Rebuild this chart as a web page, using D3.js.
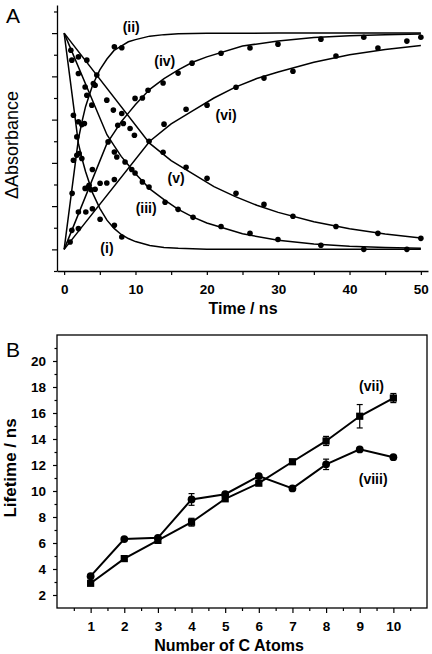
<!DOCTYPE html>
<html><head><meta charset="utf-8">
<script src="https://cdn.jsdelivr.net/npm/d3@7"></script>
<style>html,body{margin:0;padding:0;background:#fff;}svg{display:block;}</style>
</head><body>
<svg id="chart" width="432" height="654"></svg>
<script>
// ---------- Panel A data ----------
const timeTicks = [0, 10, 20, 30, 40, 50];
const timeMinorTicks = [5, 15, 25, 35, 45];
const absTicks = [0, 0.2, 0.4, 0.6, 0.8, 1.0];
const absMinorTicks = [-0.1, 0.1, 0.3, 0.5, 0.7, 0.9, 1.1];

// fitted curves
const fitFast_t = [0, 2, 2.5, 3, 3.5, 4, 5, 6, 7, 8, 9, 10, 12, 14, 16, 20, 30, 50];
const fitI_v   = [1, 0.49, 0.42, 0.36, 0.31, 0.26, 0.19, 0.135, 0.097, 0.069, 0.05, 0.036, 0.018, 0.009, 0.005, 0.001, 0, 0];
const fitII_v  = [0, 0.51, 0.59, 0.66, 0.71, 0.76, 0.83, 0.88, 0.92, 0.94, 0.96, 0.97, 0.986, 0.993, 0.997, 0.999, 1, 1];
const fitMid_t = [0, 6, 7, 8, 9, 10, 12, 14, 16, 18, 20, 25, 30, 35, 40, 45, 50];
const fitIII_v = [1, 0.53, 0.48, 0.43, 0.39, 0.35, 0.28, 0.23, 0.185, 0.15, 0.122, 0.072, 0.042, 0.025, 0.015, 0.009, 0.005];
const fitIV_v  = [0, 0.49, 0.54, 0.59, 0.63, 0.67, 0.74, 0.79, 0.83, 0.865, 0.89, 0.94, 0.964, 0.98, 0.988, 0.993, 0.996];
const fitSlow_t = [0, 12, 15, 18, 21, 24, 27, 30, 35, 40, 45, 50];
const fitV_v   = [1, 0.49, 0.41, 0.35, 0.29, 0.244, 0.204, 0.171, 0.128, 0.095, 0.071, 0.053];
const fitVI_v  = [0, 0.50, 0.58, 0.64, 0.70, 0.75, 0.79, 0.82, 0.865, 0.90, 0.924, 0.943];

// measured points
const dotsI_t = [1.3, 2.0, 1.78, 2.1, 2.48, 3.4, 3.78, 4.34, 5.04, 7.04, 8.08];
const dotsI_v = [0.62, 0.59, 0.435, 0.443, 0.42, 0.288, 0.276, 0.278, 0.139, 0.111, 0.057];
const dotsII_t = [1.12, 1.3, 1.78, 2.48, 2.84, 3.18, 4.1, 4.34, 4.58, 7.04, 8.08];
const dotsII_v = [0.259, 0.412, 0.52, 0.577, 0.582, 0.713, 0.767, 0.759, 0.806, 0.937, 0.932];
const dotsIII_t = [0.94, 1.08, 2.0, 2.94, 3.88, 6.16, 7.04, 7.38, 8.54, 9.48, 9.94, 10.97, 11.9, 14.15, 15.97, 18.07, 21.99, 26.05, 29.97, 35.99, 42.0, 48.04];
const dotsIII_v = [0.921, 0.875, 0.813, 0.751, 0.667, 0.497, 0.45, 0.427, 0.404, 0.369, 0.353, 0.312, 0.288, 0.218, 0.185, 0.148, 0.106, 0.074, 0.046, 0.019, 0.0, 0.0];
const dotsIV_t = [1.08, 2.0, 2.94, 3.5, 3.96, 7.52, 9.94, 10.97, 11.76, 13.87, 15.97, 17.93, 21.99, 26.05, 29.97, 35.99, 42.0, 48.04, 50.0];
const dotsIV_v = [0.088, 0.173, 0.282, 0.296, 0.369, 0.574, 0.698, 0.70, 0.736, 0.769, 0.815, 0.861, 0.907, 0.931, 0.949, 0.972, 0.981, 0.963, 0.981];
const dotsV_t = [2.0, 3.18, 5.98, 6.9, 8.08, 8.3, 9.24, 9.85, 13.87, 17.09, 20.03, 24.09, 28.01, 32.07, 38.1, 43.98, 50.0];
const dotsV_v = [0.89, 0.875, 0.69, 0.644, 0.628, 0.582, 0.559, 0.528, 0.449, 0.38, 0.329, 0.259, 0.208, 0.153, 0.106, 0.074, 0.051];
const dotsVI_t = [0.84, 2.0, 3.04, 3.96, 5.04, 5.98, 7.04, 11.9, 14.0, 17.09, 20.03, 24.09, 28.01, 32.07, 38.1, 43.98];
const dotsVI_v = [0.034, 0.096, 0.173, 0.188, 0.306, 0.307, 0.323, 0.50, 0.579, 0.648, 0.667, 0.75, 0.792, 0.824, 0.894, 0.931];

const curveLabelsA = ["(i)", "(ii)", "(iii)", "(iv)", "(v)", "(vi)"];
const curveLabelT  = [6.0, 9.4, 11.5, 14.1, 15.7, 22.7];
const curveLabelV  = [-0.015, 1.005, 0.17, 0.85, 0.305, 0.6];

// ---------- Panel B data ----------
const carbons = [1, 2, 3, 4, 5, 6, 7, 8, 9, 10];
const lifeVii  = [2.9, 4.8, 6.2, 7.6, 9.4, 10.6, 12.25, 13.85, 15.75, 17.15];
const errVii   = [0.1, 0.1, 0.1, 0.3, 0.1, 0.1, 0.1, 0.35, 0.9, 0.35];
const lifeViii = [3.45, 6.3, 6.4, 9.35, 9.75, 11.15, 10.2, 12.05, 13.2, 12.6];
const errViii  = [0.1, 0.1, 0.1, 0.45, 0.1, 0.1, 0.1, 0.4, 0.1, 0.1];
const carbonTicks = [1, 2, 3, 4, 5, 6, 7, 8, 9, 10];
const carbonMinorTicks = [0.5, 1.5, 2.5, 3.5, 4.5, 5.5, 6.5, 7.5, 8.5, 9.5, 10.5];
const lifeTicks = [2, 4, 6, 8, 10, 12, 14, 16, 18, 20];
const lifeMinorTicks = [3, 5, 7, 9, 11, 13, 15, 17, 19, 21];

const FONT = "'Liberation Sans', Arial, Helvetica, sans-serif";
const svg = d3.select("#chart");

// ================= Panel A =================
const xA = d3.scaleLinear().domain([-1, 51]).range([57, 428]);
const yA = d3.scaleLinear().domain([-0.1, 1.13]).range([271, 5]);
const gA = svg.append("g");

function styleAxis(g, fs) {
  g.selectAll("path.domain").attr("stroke", "#000").attr("stroke-width", 1.3);
  g.selectAll(".tick line").attr("stroke", "#000").attr("stroke-width", 1.2);
  g.selectAll(".tick text").attr("font-family", FONT).attr("font-size", fs)
    .attr("font-weight", "bold").attr("fill", "#000");
}

gA.append("g").attr("transform", "translate(0,271)")
  .call(d3.axisBottom(xA).tickValues(timeTicks).tickSize(4).tickSizeOuter(0).tickPadding(9).tickFormat(d3.format("d")))
  .call(g => styleAxis(g, 13.5));
gA.append("g").attr("transform", "translate(0,271)")
  .call(d3.axisBottom(xA).tickValues(timeMinorTicks).tickSize(4).tickSizeOuter(0).tickFormat(""))
  .call(g => { styleAxis(g, 13); g.select("path.domain").remove(); });
gA.append("g").attr("transform", "translate(57,0)")
  .call(d3.axisLeft(yA).tickValues(absTicks).tickSize(5).tickSizeOuter(0).tickFormat(""))
  .call(g => styleAxis(g, 13));
gA.append("g").attr("transform", "translate(57,0)")
  .call(d3.axisLeft(yA).tickValues(absMinorTicks).tickSize(3).tickSizeOuter(0).tickFormat(""))
  .call(g => { styleAxis(g, 13); g.select("path.domain").remove(); });

const lineA = d3.line().x(d => xA(d[0])).y(d => yA(d[1])).curve(d3.curveLinear);
const fits = [[fitFast_t, fitI_v], [fitFast_t, fitII_v], [fitMid_t, fitIII_v], [fitMid_t, fitIV_v], [fitSlow_t, fitV_v], [fitSlow_t, fitVI_v]];
fits.forEach(([ts, vs]) => {
  gA.append("path").datum(ts.map((t, i) => [t, vs[i]]))
    .attr("d", lineA).attr("fill", "none").attr("stroke", "#000").attr("stroke-width", 1.5);
});

const dotSets = [[dotsI_t, dotsI_v], [dotsII_t, dotsII_v], [dotsIII_t, dotsIII_v], [dotsIV_t, dotsIV_v], [dotsV_t, dotsV_v], [dotsVI_t, dotsVI_v]];
dotSets.forEach(([ts, vs]) => {
  gA.append("g").selectAll("circle").data(ts.map((t, i) => [t, vs[i]])).join("circle")
    .attr("cx", d => xA(d[0])).attr("cy", d => yA(d[1])).attr("r", 2.8).attr("fill", "#000");
});

gA.selectAll("text.clab").data(curveLabelsA).join("text").attr("class", "clab")
  .attr("x", (d, i) => xA(curveLabelT[i])).attr("y", (d, i) => yA(curveLabelV[i]))
  .attr("text-anchor", "middle").attr("font-family", FONT).attr("font-size", 14)
  .attr("font-weight", "bold").text(d => d);

gA.append("text").attr("x", 243).attr("y", 314).attr("text-anchor", "middle")
  .attr("font-family", FONT).attr("font-size", 16).attr("font-weight", "bold").text("Time / ns");
gA.append("text").attr("transform", "translate(18,145) rotate(-90)").attr("text-anchor", "middle")
  .attr("font-family", FONT).attr("font-size", 18).text("\u0394Absorbance");
gA.append("text").attr("x", 6).attr("y", 23).attr("font-family", FONT).attr("font-size", 21).text("A");

// ================= Panel B =================
const xB = d3.scaleLinear().domain([0, 11]).range([57, 427]);
const yB = d3.scaleLinear().domain([1, 22]).range([608, 335]);
const gB = svg.append("g");

gB.append("rect").attr("x", 57).attr("y", 335).attr("width", 370).attr("height", 273)
  .attr("fill", "none").attr("stroke", "#000").attr("stroke-width", 1.3);

gB.append("g").attr("transform", "translate(0,608)")
  .call(d3.axisBottom(xB).tickValues(carbonTicks).tickSize(5).tickSizeOuter(0).tickPadding(8).tickFormat(d3.format("d")))
  .call(g => { styleAxis(g, 13.5); g.select("path.domain").remove(); });
gB.append("g").attr("transform", "translate(0,608)")
  .call(d3.axisBottom(xB).tickValues(carbonMinorTicks).tickSize(3).tickSizeOuter(0).tickFormat(""))
  .call(g => { styleAxis(g, 13); g.select("path.domain").remove(); });
gB.append("g").attr("transform", "translate(57,0)")
  .call(d3.axisLeft(yB).tickValues(lifeTicks).tickSize(4).tickSizeOuter(0).tickPadding(7).tickFormat(d3.format("d")))
  .call(g => { styleAxis(g, 13.5); g.select("path.domain").remove(); });
gB.append("g").attr("transform", "translate(57,0)")
  .call(d3.axisLeft(yB).tickValues(lifeMinorTicks).tickSize(2.5).tickSizeOuter(0).tickFormat(""))
  .call(g => { styleAxis(g, 13); g.select("path.domain").remove(); });

const lineB = d3.line().x(d => xB(d[0])).y(d => yB(d[1]));
const seriesB = [
  { vals: lifeVii, err: errVii, shape: "square" },
  { vals: lifeViii, err: errViii, shape: "circle" }
];
seriesB.forEach(s => {
  const pts = carbons.map((c, i) => [c, s.vals[i], s.err[i]]);
  gB.append("path").datum(pts).attr("d", lineB).attr("fill", "none")
    .attr("stroke", "#000").attr("stroke-width", 2);
  const eb = gB.append("g");
  pts.forEach(p => {
    const x = xB(p[0]), y1 = yB(p[1] - p[2]), y2 = yB(p[1] + p[2]);
    eb.append("line").attr("x1", x).attr("x2", x).attr("y1", y1).attr("y2", y2).attr("stroke", "#000").attr("stroke-width", 1.2);
    eb.append("line").attr("x1", x - 3).attr("x2", x + 3).attr("y1", y1).attr("y2", y1).attr("stroke", "#000").attr("stroke-width", 1.2);
    eb.append("line").attr("x1", x - 3).attr("x2", x + 3).attr("y1", y2).attr("y2", y2).attr("stroke", "#000").attr("stroke-width", 1.2);
  });
  if (s.shape === "square") {
    gB.append("g").selectAll("rect").data(pts).join("rect")
      .attr("x", d => xB(d[0]) - 3.6).attr("y", d => yB(d[1]) - 3.6)
      .attr("width", 7.2).attr("height", 7.2).attr("fill", "#000");
  } else {
    gB.append("g").selectAll("circle").data(pts).join("circle")
      .attr("cx", d => xB(d[0])).attr("cy", d => yB(d[1])).attr("r", 3.9).attr("fill", "#000");
  }
});

gB.append("text").attr("x", xB(9.35)).attr("y", 391).attr("text-anchor", "middle")
  .attr("font-family", FONT).attr("font-size", 14).attr("font-weight", "bold").text("(vii)");
gB.append("text").attr("x", xB(9.4)).attr("y", 484).attr("text-anchor", "middle")
  .attr("font-family", FONT).attr("font-size", 14).attr("font-weight", "bold").text("(viii)");

gB.append("text").attr("x", 229).attr("y", 651).attr("text-anchor", "middle")
  .attr("font-family", FONT).attr("font-size", 16).attr("font-weight", "bold").text("Number of C Atoms");
gB.append("text").attr("transform", "translate(16,468) rotate(-90)").attr("text-anchor", "middle")
  .attr("font-family", FONT).attr("font-size", 17).attr("font-weight", "bold").text("Lifetime / ns");
gB.append("text").attr("x", 6).attr("y", 357).attr("font-family", FONT).attr("font-size", 21).text("B");
</script>
</body></html>
